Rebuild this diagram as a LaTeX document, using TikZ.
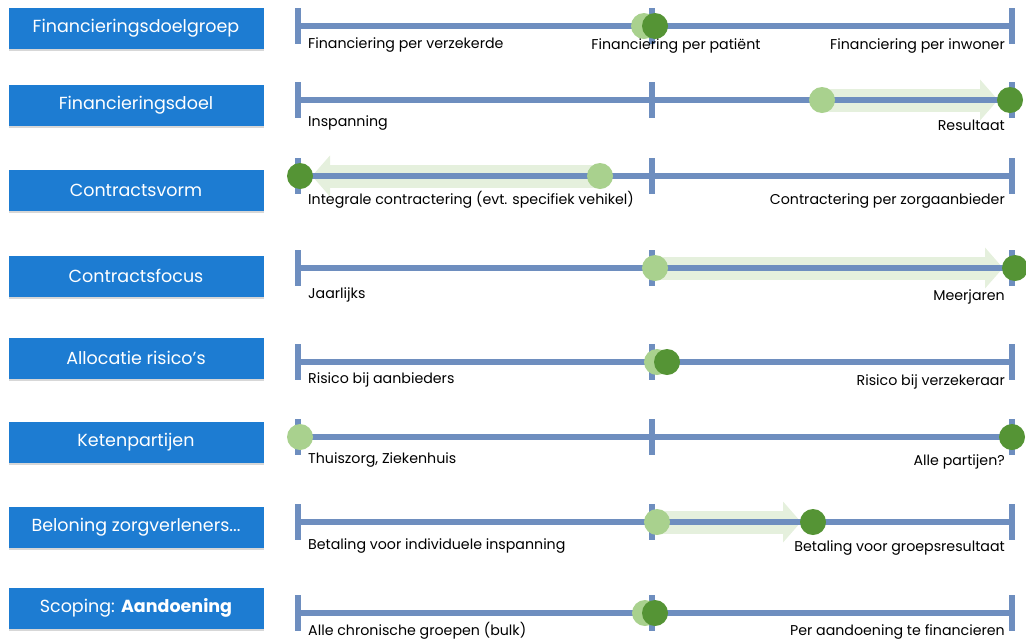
\documentclass[tikz,border=0pt]{standalone}
\usepackage{fontspec}
\setmainfont{Poppins}
\usepackage{xcolor}
\definecolor{topicblue}{HTML}{1D7CD2}
\definecolor{axisblue}{HTML}{6E8EBF}
\definecolor{nowgreen}{HTML}{A9D18E}
\definecolor{goalgreen}{HTML}{559435}
\definecolor{palegreen}{HTML}{E5F0DD}
\usetikzlibrary{arrows.meta,shadows}
\tikzset{
  topic/.style={fill=topicblue, text=white, font=\fontsize{17.5}{20}\selectfont,
                minimum width=255pt, minimum height=41pt, inner sep=0pt,
                drop shadow={shadow xshift=0pt, shadow yshift=-2pt, opacity=0.35, fill=black!45}},
  axis/.style={draw=axisblue, line width=6pt},
  axtick/.style={draw=axisblue, line width=6pt},
  pole/.style={font=\fontsize{14.2}{16}\selectfont, inner sep=0pt},
  now/.style={circle, fill=nowgreen, minimum size=26pt, inner sep=0pt},
  goal/.style={circle, fill=goalgreen, minimum size=26pt, inner sep=0pt},
  move/.style={draw=palegreen, line width=23pt, shorten >=12pt,
                -{Triangle[length=18pt,width=40pt]}},
}

\begin{document}
\begin{tikzpicture}[x=1pt, y=-1pt]
  \useasboundingbox (0,0) rectangle (1026,641);

  % topics
  \node[topic] (t1) at (136,28)  {Financieringsdoelgroep};
  \node[topic] (t2) at (136,105) {Financieringsdoel};
  \node[topic] (t3) at (136,190) {Contractsvorm};
  \node[topic] (t4) at (136,276) {Contractsfocus};
  \node[topic] (t5) at (136,358) {Allocatie risico's};
  \node[topic] (t6) at (136,442) {Ketenpartijen};
  \node[topic] (t7) at (136,527) {Beloning zorgverleners...};
  \node[topic] (t8) at (136,608) {Scoping: \textbf{Aandoening}};

  % current (light) and aimed (dark) positions
  \coordinate (n1) at (644,26);   \coordinate (g1) at (655,26);
  \coordinate (n2) at (822,100);  \coordinate (g2) at (1010,100);
  \coordinate (n3) at (600,176);  \coordinate (g3) at (300,176);
  \coordinate (n4) at (655,268);  \coordinate (g4) at (1015,268);
  \coordinate (n5) at (657,362);  \coordinate (g5) at (667,362);
  \coordinate (n6) at (300,437);  \coordinate (g6) at (1012,437);
  \coordinate (n7) at (657,522);  \coordinate (g7) at (813,522);
  \coordinate (n8) at (645,613);  \coordinate (g8) at (655,613);

  % moves behind the axes
  \draw[move] (n2) -- (g2);
  \draw[move] (n3) -- (g3);
  \draw[move] (n4) -- (g4);
  \draw[move] (n7) -- (g7);

  % axes
  \foreach \y in {26,100,176,268,362,437,522,613}{
    \draw[axis] (298,\y) -- (1012,\y);
    \foreach \x in {298,652,1012}
      \draw[axtick] (\x,\y-18) -- (\x,\y+18);
  }

  % poles
  \node[pole, anchor=west] (p1a) at (308,45) {Financiering per verzekerde};
  \node[pole] (p1b) at (676,46) {Financiering per patiënt};
  \node[pole, anchor=east] (p1c) at (1005,46) {Financiering per inwoner};
  \node[pole, anchor=west] (p2a) at (308,123) {Inspanning};
  \node[pole, anchor=east] (p2b) at (1005,125) {Resultaat};
  \node[pole, anchor=west] (p3a) at (308,200) {Integrale contractering (evt. specifiek vehikel)};
  \node[pole, anchor=east] (p3b) at (1005,201) {Contractering per zorgaanbieder};
  \node[pole, anchor=west] (p4a) at (308,295) {Jaarlijks};
  \node[pole, anchor=east] (p4b) at (1005,297) {Meerjaren};
  \node[pole, anchor=west] (p5a) at (308,380) {Risico bij aanbieders};
  \node[pole, anchor=east] (p5b) at (1005,382) {Risico bij verzekeraar};
  \node[pole, anchor=west] (p6a) at (308,460) {Thuiszorg, Ziekenhuis};
  \node[pole, anchor=east] (p6b) at (1005,462) {Alle partijen?};
  \node[pole, anchor=west] (p7a) at (308,546) {Betaling voor individuele inspanning};
  \node[pole, anchor=east] (p7b) at (1005,548) {Betaling voor groepsresultaat};
  \node[pole, anchor=west] (p8a) at (308,631) {Alle chronische groepen (bulk)};
  \node[pole, anchor=east] (p8b) at (1005,632) {Per aandoening te financieren};

  % markers
  \foreach \i in {1,...,8}{
    \node[now] (now\i) at (n\i) {};
    \node[goal] (goal\i) at (g\i) {};
  }
\end{tikzpicture}
\end{document}
